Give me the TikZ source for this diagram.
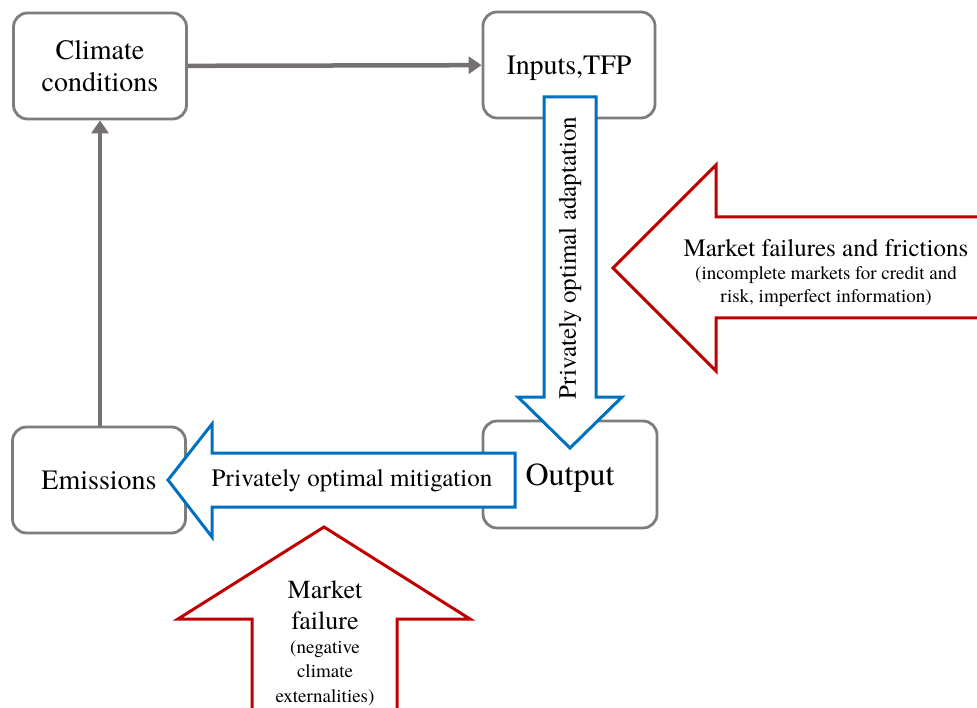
\documentclass[tikz,border=0pt]{standalone}
\usepackage{fontspec}
\setmainfont{texgyretermes-regular.otf}[BoldFont=texgyretermes-bold.otf, ItalicFont=texgyretermes-italic.otf]
\usetikzlibrary{arrows.meta, positioning}

\definecolor{boxgray}{RGB}{125,125,125}
\definecolor{linkgray}{RGB}{118,113,113}
\definecolor{flowblue}{RGB}{0,112,192}
\definecolor{failred}{RGB}{192,0,0}

\begin{document}
\begin{tikzpicture}[x=1pt, y=-1pt,
  box/.style={draw=boxgray, line width=2.8pt, rounded corners=14pt, fill=white, minimum width=173pt, minimum height=106pt, align=center, text depth=0pt, font=\fontsize{28}{32}\selectfont},
  link/.style={-{Triangle[length=13pt, width=17pt]}, line width=4.5pt, linkgray},
  flow/.style={draw=flowblue, line width=3pt, fill=white, line join=miter},
  fail/.style={draw=failred, line width=3pt, fill=white, line join=miter},
  lbl/.style={inner sep=0pt, font=\fontsize{25}{28}\selectfont},
  note/.style={inner sep=0pt, align=center, font=\fontsize{19}{23}\selectfont}
]
  \useasboundingbox (0,0) rectangle (977,708);
  \clip (0,0) rectangle (977,708);

  \node[box] (climate) at (100,66) {Climate\\conditions};
  \node[box, minimum width=172pt] (inputs) at (569,65) {Inputs,TFP};
  \node[box] (emissions) at (99,480) {Emissions};
  \node[box, minimum width=174pt, minimum height=107pt, text height=22pt, font=\fontsize{32}{36}\selectfont] (output) at (570,474.5) {Output};

  \draw[link] (climate) -- (inputs);
  \draw[link] (emissions.north -| climate) -- (climate.south);

  % blue: private responses
  \draw[flow] (544,97) -- (596,97) -- (596,397) -- (622,397) -- (570,448) -- (518,397) -- (544,397) -- cycle;
  \node[lbl, rotate=90] (adapt) at (570,258) {Privately optimal adaptation};

  \draw[flow] (515,453) -- (515,507) -- (212,507) -- (212,537) -- (168,480) -- (212,424) -- (212,453) -- cycle;
  \node[lbl] (mitig) at (352,481) {Privately optimal mitigation};

  % red: failures
  \draw[fail] (995,217) -- (716,217) -- (716,165) -- (613,268) -- (716,371) -- (716,318) -- (995,318) -- cycle;
  \node[lbl, anchor=base] (frictions) at (826,257) {Market failures and frictions};
  \node[note, anchor=north] (frictnote) at (826,266) {(incomplete markets for credit and\\risk, imperfect information)};

  \draw[fail] (252,720) -- (252,619) -- (178,619) -- (324,527) -- (470,619) -- (397,619) -- (397,720) -- cycle;
  \node[lbl, anchor=north, align=center, font=\fontsize{26}{31}\selectfont] (failure) at (325,581) {Market\\failure};
  \node[note, anchor=north, font=\fontsize{19}{24.5}\selectfont] (external) at (325,640) {(negative\\climate\\externalities)};
\end{tikzpicture}
\end{document}
